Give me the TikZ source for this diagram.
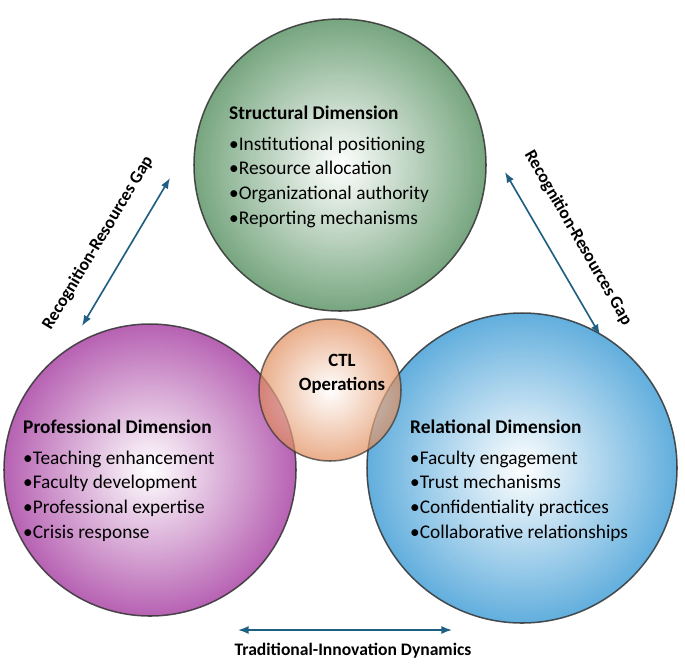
\documentclass[tikz,border=0pt]{standalone}
\usepackage{fontspec}
\setmainfont{Carlito}
\usetikzlibrary{positioning,arrows.meta}
\definecolor{gstruct}{RGB}{95,150,105}
\definecolor{gprof}{RGB}{170,70,165}
\definecolor{grel}{RGB}{70,160,215}
\definecolor{gctl}{RGB}{225,140,90}
\definecolor{arrowblue}{RGB}{30,95,130}
\tikzset{
  dimension/.style={circle, draw=black!80, line width=1.3pt, inner color=white, opacity=0.85},
  gap/.style={{Latex[length=9pt]}-{Latex[length=9pt]}, line width=1.4pt, draw=arrowblue},
  gaplabel/.style={font=\bfseries\fontsize{15}{17}\selectfont},
  items/.style={align=left, font=\fontsize{16.5}{21}\selectfont, anchor=north west, inner sep=0pt}
}
\begin{document}
\begin{tikzpicture}[x=0.03cm,y=-0.03cm]
\useasboundingbox (0,0) rectangle (685,664);
% circles
\node[dimension, outer color=gstruct, minimum size=292*0.03cm] (struct) at (340,165) {};
\node[dimension, outer color=gprof, minimum size=292*0.03cm] (prof) at (150,470) {};
\node[dimension, outer color=grel, minimum size=310*0.03cm] (rel) at (522,468) {};
\node[dimension, outer color=gctl, minimum size=142*0.03cm, opacity=0.7] (ctl) at (330,390) {};
% texts
\node[items] (structtxt) at (229,106) {\textbf{Structural Dimension}\\[5pt]
  •Institutional positioning\\•Resource allocation\\•Organizational authority\\•Reporting mechanisms};
\node[items] (proftxt) at (23,420) {\textbf{Professional Dimension}\\[5pt]
  •Teaching enhancement\\•Faculty development\\•Professional expertise\\•Crisis response};
\node[items] (reltxt) at (410,420) {\textbf{Relational Dimension}\\[5pt]
  •Faculty engagement\\•Trust mechanisms\\•Confidentiality practices\\•Collaborative relationships};
\node[align=center, font=\bfseries\fontsize{16}{20}\selectfont] (ctltxt) at (342,374) {CTL\\Operations};
% gaps
\coordinate (l1) at (170,178);
\coordinate (l2) at (82,326);
\coordinate (r1) at (505,172);
\coordinate (r2) at (600,335);
\coordinate (b1) at (238,630);
\coordinate (b2) at (452,630);
\draw[gap] (l1) -- (l2);
\draw[gap] (r1) -- (r2);
\draw[gap] (b1) -- (b2);
\node[gaplabel, rotate=59] (lgap) at (98,243) {Recognition-Resources Gap};
\node[gaplabel, rotate=-60] (rgap) at (578,238) {Recognition-Resources Gap};
\node[gaplabel] (bgap) at (353,651) {Traditional-Innovation Dynamics};
\end{tikzpicture}
\end{document}
